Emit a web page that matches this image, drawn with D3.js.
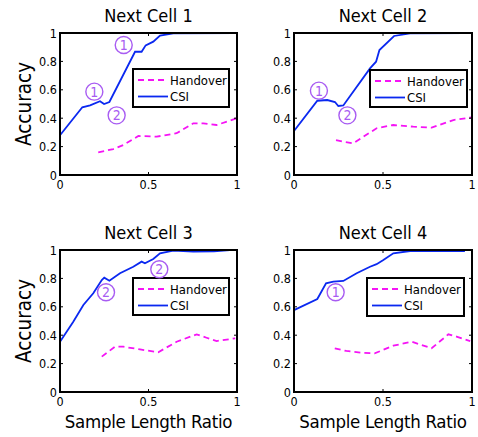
<!DOCTYPE html>
<html>
<head>
<meta charset="utf-8">
<script src="https://cdn.jsdelivr.net/npm/d3@7"></script>
<style>
  body { margin: 0; background: #fff; }
  svg { display: block; font-family: "DejaVu Sans Condensed", "DejaVu Sans", sans-serif; }
</style>
</head>
<body>
<svg id="chart" width="478" height="437"></svg>
<script>
// --- Data ---
const titles = ["Next Cell 1", "Next Cell 2", "Next Cell 3", "Next Cell 4"];
const seriesNames = ["Handover", "CSI"];
const xTicks = [0, 0.5, 1];
const xTickLabels = ["0", "0.5", "1"];
const yTicks = [0, 0.2, 0.4, 0.6, 0.8, 1];
const yTickLabels = ["0", "0.2", "0.4", "0.6", "0.8", "1"];

const csi1 = [[0, 0.28], [0.126, 0.477], [0.17, 0.49], [0.226, 0.52], [0.249, 0.50], [0.279, 0.514],
  [0.424, 0.868], [0.461, 0.868], [0.484, 0.913], [0.527, 0.939], [0.565, 0.981], [0.64, 0.998], [0.99, 1.0]];
const hand1 = [[0.216, 0.16], [0.301, 0.183], [0.358, 0.211], [0.443, 0.275], [0.546, 0.27], [0.659, 0.294],
  [0.753, 0.364], [0.81, 0.364], [0.885, 0.352], [1.0, 0.40]];

const csi2 = [[0, 0.31], [0.131, 0.523], [0.187, 0.528], [0.23, 0.514], [0.249, 0.486], [0.277, 0.49],
  [0.427, 0.751], [0.461, 0.798], [0.48, 0.88], [0.562, 0.979], [0.652, 0.998], [0.957, 1.0]];
const hand2 = [[0.236, 0.246], [0.277, 0.235], [0.333, 0.223], [0.39, 0.27], [0.464, 0.329], [0.558, 0.352],
  [0.67, 0.34], [0.773, 0.333], [0.895, 0.387], [0.998, 0.406]];

const csi3 = [[0, 0.354], [0.075, 0.495], [0.132, 0.613], [0.188, 0.695], [0.236, 0.789], [0.25, 0.805],
  [0.279, 0.784], [0.339, 0.836], [0.414, 0.882], [0.461, 0.918], [0.48, 0.906], [0.527, 0.937],
  [0.565, 0.977], [0.64, 0.995], [0.753, 0.988], [0.87, 0.99], [0.96, 1.0]];
const hand3 = [[0.236, 0.249], [0.311, 0.319], [0.358, 0.319], [0.452, 0.30], [0.555, 0.28], [0.659, 0.354],
  [0.772, 0.406], [0.828, 0.382], [0.885, 0.359], [0.99, 0.378]];

const csi4 = [[0, 0.577], [0.131, 0.655], [0.18, 0.765], [0.221, 0.777], [0.277, 0.782], [0.352, 0.836],
  [0.427, 0.882], [0.464, 0.9], [0.502, 0.93], [0.558, 0.977], [0.652, 0.993], [0.96, 0.993]];
const hand4 = [[0.229, 0.308], [0.294, 0.289], [0.38, 0.277], [0.453, 0.272], [0.558, 0.326], [0.661, 0.354],
  [0.773, 0.308], [0.867, 0.406], [0.913, 0.39], [0.99, 0.359]];

// circled markers: [x, y, label]
const marks1 = [[0.36, 0.915, "1"], [0.194, 0.587, "1"], [0.32, 0.42, "2"]];
const marks2 = [[0.14, 0.594, "1"], [0.30, 0.42, "2"]];
const marks3 = [[0.26, 0.702, "2"], [0.561, 0.864, "2"]];
const marks4 = [[0.234, 0.702, "1"]];

// --- Layout ---
const svg = d3.select("#chart");
const colors = { csi: "#0a28f0", hand: "#f514f5", mark: "#a85cf2" };

const panels = [
  { title: titles[0], csi: csi1, hand: hand1, marks: marks1, x0: 60, x1: 237, y0: 33, y1: 175, leg: [73, 36, 96, 38], ylab: true, xlab: false },
  { title: titles[1], csi: csi2, hand: hand2, marks: marks2, x0: 294, x1: 472, y0: 33, y1: 175, leg: [76, 37, 97, 37], ylab: false, xlab: false },
  { title: titles[2], csi: csi3, hand: hand3, marks: marks3, x0: 60, x1: 237, y0: 250, y1: 392, leg: [73, 28, 96, 37], ylab: true, xlab: true },
  { title: titles[3], csi: csi4, hand: hand4, marks: marks4, x0: 294, x1: 472, y0: 250, y1: 392, leg: [73, 28, 97, 38], ylab: false, xlab: true },
];

panels.forEach((p) => {
  const x = d3.scaleLinear().domain([0, 1]).range([p.x0, p.x1]);
  const y = d3.scaleLinear().domain([0, 1]).range([p.y1, p.y0]);
  const g = svg.append("g");

  // lines
  const line = d3.line().x((d) => x(d[0])).y((d) => y(d[1]));
  g.append("path")
    .attr("d", line(p.hand))
    .attr("fill", "none")
    .attr("stroke", colors.hand)
    .attr("stroke-width", 1.8)
    .attr("stroke-dasharray", "6,4");
  g.append("path")
    .attr("d", line(p.csi))
    .attr("fill", "none")
    .attr("stroke", colors.csi)
    .attr("stroke-width", 1.8);

  // axes box
  g.append("rect")
    .attr("x", p.x0).attr("y", p.y0)
    .attr("width", p.x1 - p.x0).attr("height", p.y1 - p.y0)
    .attr("fill", "none").attr("stroke", "#000").attr("stroke-width", 2);

  // inward ticks on all four sides
  const tl = 3;
  yTicks.forEach((t) => {
    g.append("line").attr("x1", p.x0).attr("x2", p.x0 + tl).attr("y1", y(t)).attr("y2", y(t)).attr("stroke", "#000");
    g.append("line").attr("x1", p.x1).attr("x2", p.x1 - tl).attr("y1", y(t)).attr("y2", y(t)).attr("stroke", "#000");
  });
  xTicks.forEach((t) => {
    g.append("line").attr("x1", x(t)).attr("x2", x(t)).attr("y1", p.y1).attr("y2", p.y1 - tl).attr("stroke", "#000");
    g.append("line").attr("x1", x(t)).attr("x2", x(t)).attr("y1", p.y0).attr("y2", p.y0 + tl).attr("stroke", "#000");
  });

  // tick labels
  g.selectAll(".yl").data(yTicks).enter().append("text")
    .attr("x", p.x0 - 3).attr("y", (d) => y(d) + 4.5)
    .attr("text-anchor", "end").attr("font-size", 12.5)
    .text((d, i) => yTickLabels[i]);
  g.selectAll(".xl").data(xTicks).enter().append("text")
    .attr("x", (d) => x(d)).attr("y", p.y1 + 14)
    .attr("text-anchor", "middle").attr("font-size", 12.5)
    .text((d, i) => xTickLabels[i]);

  // title
  g.append("text")
    .attr("x", (p.x0 + p.x1) / 2).attr("y", p.y0 - 11)
    .attr("text-anchor", "middle").attr("font-size", 18)
    .text(p.title);

  if (p.ylab) {
    g.append("text")
      .attr("transform", `translate(31,${(p.y0 + p.y1) / 2}) rotate(-90)`)
      .attr("text-anchor", "middle").attr("font-size", 20.5)
      .text("Accuracy");
  }
  if (p.xlab) {
    g.append("text")
      .attr("x", (p.x0 + p.x1) / 2).attr("y", p.y1 + 36)
      .attr("text-anchor", "middle").attr("font-size", 18.5)
      .attr("letter-spacing", -0.3)
      .text("Sample Length Ratio");
  }

  // legend
  const [lx, ly, lw, lh] = p.leg;
  const lg = g.append("g").attr("transform", `translate(${p.x0 + lx},${p.y0 + ly})`);
  lg.append("rect").attr("width", lw).attr("height", lh)
    .attr("fill", "#fff").attr("stroke", "#000").attr("stroke-width", 2);
  [[colors.hand, "6,4"], [colors.csi, null]].forEach(([c, dash], i) => {
    const yy = 11 + i * 16.5;
    lg.append("line").attr("x1", 5).attr("x2", 35).attr("y1", yy).attr("y2", yy)
      .attr("stroke", c).attr("stroke-width", 1.8).attr("stroke-dasharray", dash);
    lg.append("text").attr("x", 37).attr("y", yy + 4.5).attr("font-size", 13).text(seriesNames[i]);
  });

  // circled annotations
  p.marks.forEach(([mx, my, lab]) => {
    g.append("circle").attr("cx", x(mx)).attr("cy", y(my)).attr("r", 8.5)
      .attr("fill", "none").attr("stroke", colors.mark).attr("stroke-width", 1.4);
    g.append("text").attr("x", x(mx)).attr("y", y(my) + 5)
      .attr("text-anchor", "middle").attr("font-size", 14).attr("fill", colors.mark)
      .text(lab);
  });
});
</script>
</body>
</html>
